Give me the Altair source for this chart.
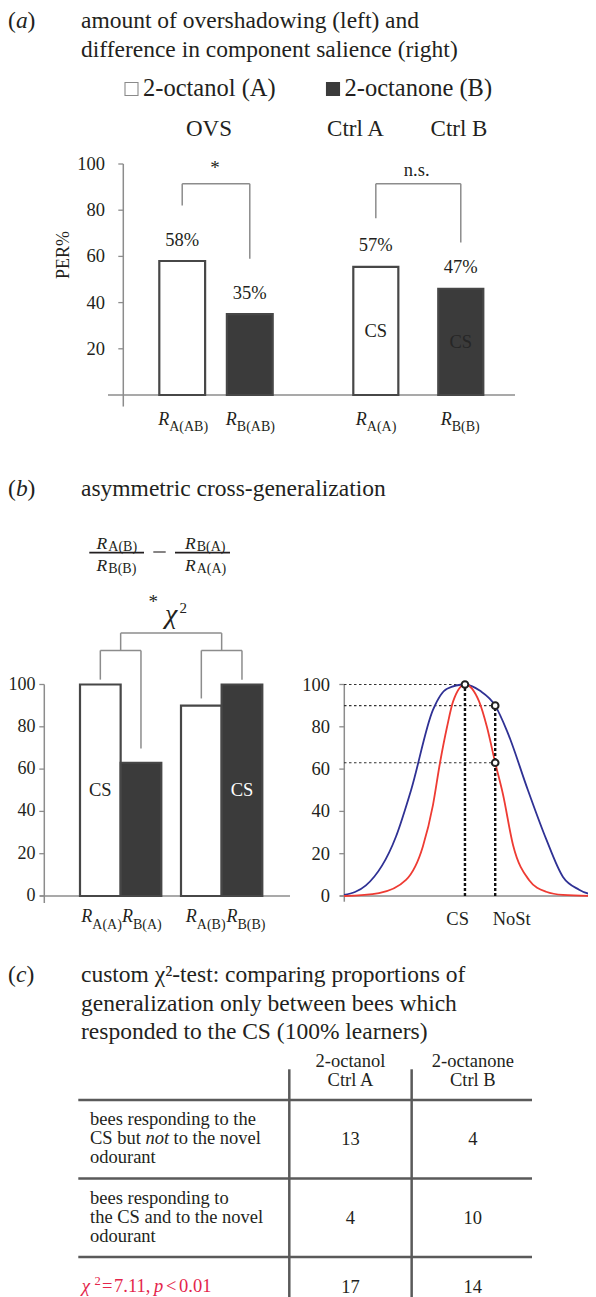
import altair as alt
import pandas as pd

FONT = "Liberation Serif"
INK = "#231f20"
GRID = "#8c8c8c"
DARK = "#3b3b3b"
EDGE = "#474747"
BLUE = "#2f3194"
RED = "#ee3b33"
CRIMSON = "#e4254b"

# ---------------- (a) overshadowing / component salience ----------------
a_keys = ["RA(AB)", "RB(AB)", "RA(A)", "RB(B)"]
a_subs = ["A(AB)", "B(AB)", "A(A)", "B(B)"]
a_odour = ["A", "B", "A", "B"]
a_group = ["OVS", "OVS", "Ctrl", "Ctrl"]
a_per = [58, 35, 55.5, 46]
a_per_text = ["58%", "35%", "57%", "47%"]
a_inbar = ["", "", "CS", "CS"]
a_bracket_leg = [82, 59, 76.5, 66]
a_bracket_top = [91.5, 91.5, 91.5, 91.5]
a_ticks = [20, 40, 60, 80, 100]

legend_odour = ["A", "B"]
legend_name = ["2-octanol (A)", "2-octanone (B)"]

# ---------------- (b) asymmetric cross-generalization ----------------
b_keys = ["RA(A)", "RB(A)", "RA(B)", "RB(B)"]
b_subs = ["A(A)", "B(A)", "A(B)", "B(B)"]
b_odour = ["A", "B", "A", "B"]
b_group = ["g1", "g1", "g2", "g2"]
b_per = [100, 63, 90, 100]
b_inbar = ["CS", "", "", "CS"]
b_leg = [102.3, 69.7, 93.4, 102.3]
b_pair_top = 116.1
b_chi_top = 124.3
b_ticks = [0, 20, 40, 60, 80, 100]

gen_x_wide = [0, 8.7, 20.6, 26.6, 35.3, 40.9, 48, 54, 60, 64.7, 73.0, 80.2, 86.9, 93.3, 100]
gen_y_wide = [0.5, 5, 28, 50, 88, 98, 100, 97, 90, 78, 50, 27, 9, 3, 0]
gen_x_narrow = [0, 13.9, 24.6, 31.3, 35.3, 38.1, 40.9, 43.3, 48, 53.6, 56.7, 60, 63.1, 67.1, 73.4, 80.2, 86.9, 100]
gen_y_narrow = [0, 1.4, 7.6, 23.4, 43, 63, 80, 92, 100, 92, 80, 63, 48, 24, 7.6, 2, 0.5, 0]
stim_name = ["CS", "NoSt"]
stim_x = [48, 60]
stim_top = [100, 90]
probe_x = [48, 60, 60]
probe_y = [100, 90, 63]

# ---------------- (c) custom chi-square table ----------------
c_cols = ["Ctrl A", "Ctrl B"]
c_odour = ["2-octanol", "2-octanone"]
c_rows = ["r1", "r2", "r3"]
c_not_gen = [13, 4]
c_gen = [4, 10]
c_total = [17, 14]
c_line1 = ["bees responding to the", "bees responding to"]
c_line3 = ["odourant", "odourant"]


def lin(domain, r0, r1):
    return alt.Scale(domain=domain, range=[r0, r1], zero=False, nice=False)


def band(domain, r0, r1, inner=0.0, outer=0.0):
    return alt.Scale(type="band", domain=domain, range=[r0, r1],
                     paddingInner=inner, paddingOuter=outer)


ONE = pd.DataFrame({"k": [0]})
AB = "alphabetic"


def txt(s, x, y, size=18.5, align="left", style="normal", color=INK,
        baseline=AB, angle=0):
    return alt.Chart(ONE).mark_text(
        text=s, font=FONT, fontSize=size, align=align, baseline=baseline,
        fontStyle=style, color=color, angle=angle
    ).encode(x=alt.value(x), y=alt.value(y))


def hrule(x0, x1, y, color=INK, width=1.5):
    return alt.Chart(ONE).mark_rule(color=color, strokeWidth=width).encode(
        x=alt.value(x0), x2=alt.value(x1), y=alt.value(y))


def y_axis(ticks, ys, x_axis, lo, label_right, base_from, base_to, size=18.5):
    t = pd.DataFrame({"v": ticks})
    Y = alt.Y("v:Q", scale=ys, axis=None)
    return [
        alt.Chart(t).mark_rule(color=GRID, strokeWidth=1.3).encode(
            x=alt.value(x_axis - 5), x2=alt.value(x_axis), y=Y),
        alt.Chart(t).mark_text(font=FONT, fontSize=size, align="right",
                               baseline="middle", color=INK).encode(
            x=alt.value(label_right), y=Y, text="v:Q"),
        alt.Chart(pd.DataFrame({"lo": [lo], "hi": [100]})).mark_rule(
            color=GRID, strokeWidth=1.5).encode(
            x=alt.value(x_axis), y=alt.Y("lo:Q", scale=ys, axis=None), y2="hi:Q"),
        alt.Chart(pd.DataFrame({"z": [0]})).mark_rule(
            color=GRID, strokeWidth=1.5).encode(
            x=alt.value(base_from), x2=alt.value(base_to),
            y=alt.Y("z:Q", scale=ys, axis=None)),
    ]


FILL = alt.Scale(domain=["A", "B"], range=["#ffffff", DARK])


def bar_group(df, xs, ys, split, r_y, sub_y, cs_range, label_dy=None,
              bracket=None):
    base = alt.Chart(df)
    X = alt.X("key:N", scale=xs, axis=None)
    Xc = alt.X("key:N", scale=xs, axis=None, bandPosition=0.5)
    Y = alt.Y("per:Q", scale=ys, axis=None)
    out = [
        base.mark_bar(stroke=EDGE, strokeWidth=2.2).encode(
            x=X, y=Y, fill=alt.Fill("odour:N", scale=FILL, legend=None)),
        base.transform_filter("datum.inbar != ''").transform_calculate(
            mid="datum.per / 2").mark_text(
            font=FONT, fontSize=18.5, baseline="middle").encode(
            x=Xc, y=alt.Y("mid:Q", scale=ys, axis=None), text="inbar:N",
            color=alt.Color("odour:N", scale=alt.Scale(domain=["A", "B"], range=cs_range),
                            legend=None)),
        base.mark_text(text="R", font=FONT, fontSize=18, fontStyle="italic",
                       align="right", baseline=AB, dx=split, color=INK).encode(
            x=Xc, y=alt.value(r_y)),
        base.mark_text(font=FONT, fontSize=14, align="left", baseline=AB, dx=split,
                       color=INK).encode(x=Xc, y=alt.value(sub_y), text="sub:N"),
    ]
    if label_dy is not None:
        out.append(base.mark_text(font=FONT, fontSize=18.5, baseline="middle",
                                  dy=label_dy, color=INK).encode(
            x=Xc, y=Y, text="lab:N"))
    if bracket is not None:
        low_col, top_val = bracket
        out.append(base.transform_calculate(top=str(top_val)).mark_rule(
            color=GRID, strokeWidth=1.5).encode(
            x=Xc, y=alt.Y(f"{low_col}:Q", scale=ys, axis=None), y2="top:Q"))
        keys = list(df["key"])
        pair = pd.DataFrame({"k1": [keys[0]], "k2": [keys[1]], "top": [top_val]})
        out.append(alt.Chart(pair).mark_rule(color=GRID, strokeWidth=1.5).encode(
            x=alt.X("k1:N", scale=xs, axis=None, bandPosition=0.5),
            x2=alt.X2("k2:N", bandPosition=0.5),
            y=alt.Y("top:Q", scale=ys, axis=None)))
    return out


layers = []

# ======================= (a) =======================
layers += [
    txt("(", 0, 19.5, 23.5), txt("a", 8, 19.5, 23.5, style="italic"), txt(")", 19.6, 19.5, 23.5),
    txt("amount of overshadowing (left) and", 73, 19.5, 23.5),
    txt("difference in component salience (right)", 73, 48.5, 23.5),
]
leg_df = pd.DataFrame({"odour": legend_odour, "name": legend_name})
XL = alt.Scale(type="point", domain=legend_odour, range=[123.5, 325], padding=0)
layers += [
    alt.Chart(leg_df).mark_point(shape="square", filled=True, size=169, strokeWidth=1.1,
                                 opacity=1).encode(
        x=alt.X("odour:N", scale=XL, axis=None), y=alt.value(81),
        fill=alt.Fill("odour:N", scale=FILL, legend=None),
        stroke=alt.Stroke("odour:N", scale=alt.Scale(domain=["A", "B"], range=["#8a8a8a", DARK]),
                          legend=None)),
    alt.Chart(leg_df).mark_text(font=FONT, fontSize=24.5, align="left", baseline=AB,
                                dx=11.5, color=INK).encode(
        x=alt.X("odour:N", scale=XL, axis=None), y=alt.value(88), text="name:N"),
    txt("OVS", 201, 128, 23, align="center"),
    txt("Ctrl A", 347.5, 128, 23, align="center"),
    txt("Ctrl B", 451, 128, 23, align="center"),
]

Y_A = lin([0, 100], 387, 156)
df_a = pd.DataFrame({"key": a_keys, "sub": a_subs, "odour": a_odour, "grp": a_group,
                     "per": a_per, "lab": a_per_text, "inbar": a_inbar,
                     "leg": a_bracket_leg, "top": a_bracket_top})
X_A1 = band(a_keys[:2], 151.3, 264.7, 0.322)
X_A2 = band(a_keys[2:], 345.3, 475.3, 0.47)
layers += y_axis(a_ticks, Y_A, 115.3, -5, 97, 100, 507)
layers += bar_group(df_a[df_a.grp == "OVS"], X_A1, Y_A, -13, 417.3, 422.5,
                    [INK, "#262626"], label_dy=-21.5, bracket=("leg", a_bracket_top[0]))
layers += bar_group(df_a[df_a.grp == "Ctrl"], X_A2, Y_A, -9, 417.3, 422.5,
                    [INK, "#262626"], label_dy=-21.5, bracket=("leg", a_bracket_top[2]))
layers += [
    txt("*", 207, 166, 19, align="center"),
    txt("n.s.", 408.7, 168, 18.5, align="center"),
    txt("PER%", 56, 247, 18, align="center", baseline="middle", angle=270),
]

# ======================= (b) =======================
layers += [
    txt("(", 0, 488, 23.5), txt("b", 8, 488, 23.5, style="italic"), txt(")", 19.6, 488, 23.5),
    txt("asymmetric cross-generalization", 73, 488, 23.5),
    # ratio formula
    txt("R", 99.3, 541, 17.5, align="right", style="italic"),
    txt("A(B)", 100.3, 542.5, 14),
    hrule(81.3, 136, 544.7, INK, 1.8),
    txt("R", 99.3, 563, 17.5, align="right", style="italic"),
    txt("B(B)", 100.3, 564.5, 14),
    hrule(145.3, 157.7, 544, INK, 1.1),
    txt("R", 187.7, 541, 17.5, align="right", style="italic"),
    txt("B(A)", 188.7, 542.5, 14),
    hrule(167, 222, 544.7, INK, 1.8),
    txt("R", 187.7, 563, 17.5, align="right", style="italic"),
    txt("A(A)", 188.7, 564.5, 14),
    txt("*", 145.3, 600, 19, align="center"),
    txt("χ", 157, 615, 28, style="italic"),
    txt("2", 171.5, 605, 15),
]

Y_B = lin([0, 100], 888, 676.5)
df_b = pd.DataFrame({"key": b_keys, "sub": b_subs, "odour": b_odour, "grp": b_group,
                     "per": b_per, "inbar": b_inbar, "leg": b_leg})
X_B1 = band(b_keys[:2], 72, 153.3)
X_B2 = band(b_keys[2:], 173, 254.3)
X_BG = band(["g1", "g2"], 72, 254.3, 0.195)
layers += y_axis(b_ticks, Y_B, 36.3, -3.3, 27.5, 32, 282, size=18)
layers += bar_group(df_b[df_b.grp == "g1"], X_B1, Y_B, -8, 913.7, 921,
                    [INK, "#ffffff"], bracket=("leg", b_pair_top))
layers += bar_group(df_b[df_b.grp == "g2"], X_B2, Y_B, -4.5, 913.7, 921,
                    [INK, "#ffffff"], bracket=("leg", b_pair_top))
grp_df = pd.DataFrame({"g": ["g1", "g2"], "lo": [b_pair_top] * 2, "hi": [b_chi_top] * 2})
layers += [
    alt.Chart(grp_df).mark_rule(color=GRID, strokeWidth=1.5).encode(
        x=alt.X("g:N", scale=X_BG, axis=None, bandPosition=0.5),
        y=alt.Y("lo:Q", scale=Y_B, axis=None), y2="hi:Q"),
    alt.Chart(pd.DataFrame({"g1": ["g1"], "g2": ["g2"], "hi": [b_chi_top]})).mark_rule(
        color=GRID, strokeWidth=1.5).encode(
        x=alt.X("g1:N", scale=X_BG, axis=None, bandPosition=0.5),
        x2=alt.X2("g2:N", bandPosition=0.5),
        y=alt.Y("hi:Q", scale=Y_B, axis=None)),
]

# generalization curves
X_C = lin([0, 100], 336, 588)
Y_C = lin([0, 100], 888, 676.5)
curves = pd.concat([
    pd.DataFrame({"s": "wide", "x": gen_x_wide, "y": gen_y_wide}),
    pd.DataFrame({"s": "narrow", "x": gen_x_narrow, "y": gen_y_narrow}),
])
stim = pd.DataFrame({"name": stim_name, "x": stim_x, "top": stim_top})
probe = pd.DataFrame({"x": probe_x, "y": probe_y})
XC = alt.X("x:Q", scale=X_C, axis=None)
layers += y_axis(b_ticks, Y_C, 336.3, -2.7, 322, 332, 588)
layers += [
    alt.Chart(probe).transform_calculate(x0="0").mark_rule(
        color="#333333", strokeWidth=1.2, strokeDash=[2.5, 2.5]).encode(
        x=alt.X("x0:Q", scale=X_C, axis=None), x2="x:Q",
        y=alt.Y("y:Q", scale=Y_C, axis=None)),
    alt.Chart(curves).mark_line(interpolate="monotone", strokeWidth=1.8).encode(
        x=XC, y=alt.Y("y:Q", scale=Y_C, axis=None), detail="s:N",
        color=alt.Color("s:N", scale=alt.Scale(domain=["wide", "narrow"], range=[BLUE, RED]),
                        legend=None)),
    alt.Chart(stim).transform_calculate(z="0").mark_rule(
        color="#111111", strokeWidth=2.4, strokeDash=[3, 2]).encode(
        x=XC, y=alt.Y("z:Q", scale=Y_C, axis=None), y2="top:Q"),
    alt.Chart(probe).mark_point(shape="circle", filled=True, fill="white", stroke="#222222",
                                strokeWidth=2, size=45, opacity=1).encode(
        x=XC, y=alt.Y("y:Q", scale=Y_C, axis=None)),
    alt.Chart(stim).transform_filter("datum.name == 'CS'").mark_text(
        font=FONT, fontSize=18.5, align="right", baseline=AB, dx=4, color=INK).encode(
        x=XC, y=alt.value(917), text="name:N"),
    alt.Chart(stim).transform_filter("datum.name == 'NoSt'").mark_text(
        font=FONT, fontSize=18.5, align="left", baseline=AB, dx=-2.5, color=INK).encode(
        x=XC, y=alt.value(917), text="name:N"),
]

# ======================= (c) =======================
layers += [
    txt("(", 0, 974, 23.5), txt("c", 8, 974, 23.5, style="italic"), txt(")", 18.4, 974, 23.5),
    txt("custom χ²-test: comparing proportions of", 73, 974, 23.5),
    txt("generalization only between bees which", 73, 1002.5, 23.5),
    txt("responded to the CS (100%  learners)", 73, 1031, 23.5),
]
X_T = band(c_cols, 281.3, 526)
Y_T = band(c_rows, 1092, 1327.5)
cols_df = pd.DataFrame({"col": c_cols, "odour": c_odour})
XT = alt.X("col:N", scale=X_T, axis=None, bandPosition=0.5)
cells = pd.DataFrame({"row": ["r1", "r1", "r2", "r2"], "col": c_cols * 2,
                      "n": c_not_gen + c_gen})
totals = pd.DataFrame({"row": ["r3", "r3"], "col": c_cols, "n": c_total})
rowlab = pd.DataFrame({"row": ["r1", "r2"], "l1": c_line1, "l3": c_line3})
YT = alt.Y("row:N", scale=Y_T, axis=None, bandPosition=0.5)


def rowtext(**kw):
    return dict(font=FONT, fontSize=18.5, align="left", baseline=AB, color=INK, **kw)


layers += [
    alt.Chart(pd.DataFrame({"row": c_rows})).mark_rule(color="#5a5a5a", strokeWidth=2.5).encode(
        y=alt.Y("row:N", scale=Y_T, axis=None, bandPosition=0), x=alt.value(70.3),
        x2=alt.value(524)),
    alt.Chart(cols_df).mark_rule(color="#5a5a5a", strokeWidth=2.5).encode(
        x=alt.X("col:N", scale=X_T, axis=None, bandPosition=0), y=alt.value(1061.3),
        y2=alt.value(1289)),
    alt.Chart(cols_df).mark_text(font=FONT, fontSize=18.5, baseline=AB, color=INK).encode(
        x=XT, y=alt.value(1059), text="odour:N"),
    alt.Chart(cols_df).mark_text(font=FONT, fontSize=18.5, baseline=AB, color=INK).encode(
        x=XT, y=alt.value(1077.5), text="col:N"),
    alt.Chart(cells).mark_text(font=FONT, fontSize=18.5, baseline="middle", color=INK).encode(
        x=XT, y=YT, text="n:Q"),
    alt.Chart(totals).mark_text(font=FONT, fontSize=18.5, baseline=AB, dy=-3.5,
                                color=INK).encode(x=XT, y=YT, text="n:Q"),
    alt.Chart(rowlab).mark_text(**rowtext(dy=-14)).encode(x=alt.value(82), y=YT, text="l1:N"),
    alt.Chart(rowlab).mark_text(**rowtext(dy=24)).encode(x=alt.value(82), y=YT, text="l3:N"),
    alt.Chart(rowlab).transform_filter("datum.row == 'r2'").mark_text(
        text="the CS and to the novel", **rowtext(dy=5)).encode(x=alt.value(82), y=YT),
    alt.Chart(rowlab).transform_filter("datum.row == 'r1'").mark_text(
        text="CS but", **rowtext(dy=5)).encode(x=alt.value(82), y=YT),
    alt.Chart(rowlab).transform_filter("datum.row == 'r1'").mark_text(
        text="not", fontStyle="italic", **rowtext(dy=5)).encode(x=alt.value(137.6), y=YT),
    alt.Chart(rowlab).transform_filter("datum.row == 'r1'").mark_text(
        text="to the novel", **rowtext(dy=5)).encode(x=alt.value(165.5), y=YT),
    txt("χ", 73.7, 1284, 19, style="italic", color=CRIMSON),
    txt("2", 86.5, 1276.5, 12.5, color=CRIMSON),
    txt("=", 94, 1284, 18.5, color=CRIMSON),
    txt("7.11,", 106, 1284, 18.5, color=CRIMSON),
    txt("p", 146, 1284, 18.5, style="italic", color=CRIMSON),
    txt("<", 158, 1284, 18.5, color=CRIMSON),
    txt("0.01", 171, 1284, 18.5, color=CRIMSON),
]

chart = alt.layer(*layers).resolve_scale(
    x="independent", y="independent", fill="independent", color="independent",
    stroke="independent"
).properties(
    width=580, height=1289, padding=0,
    autosize=alt.AutoSizeParams(type="none"),
).configure_view(stroke=None)

chart.save("out.html", embed_options={"renderer": "svg", "actions": False})
